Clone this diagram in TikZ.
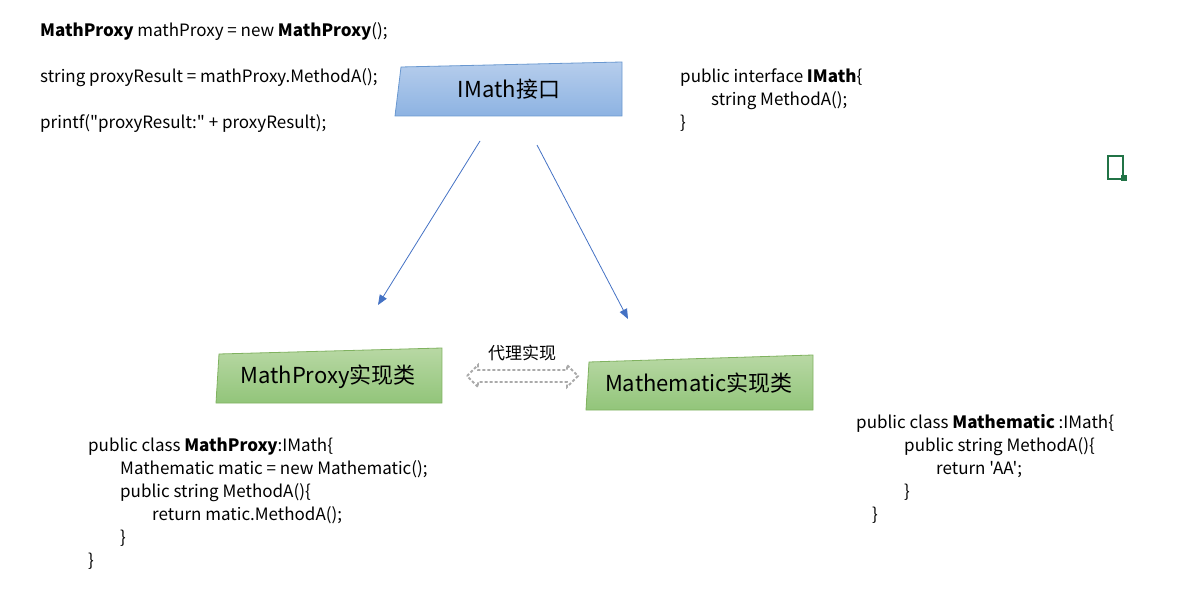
\documentclass[tikz,border=0pt]{standalone}
\usepackage{fontspec}
\setmainfont{Noto Sans CJK SC}[Ligatures=TeXOff]
\usepackage{tikz}
\usetikzlibrary{arrows.meta}
\usetikzlibrary{positioning}
\definecolor{ifaceTop}{RGB}{182,205,236}
\definecolor{ifaceBot}{RGB}{141,179,226}
\definecolor{ifaceLine}{RGB}{106,152,208}
\definecolor{implTop}{RGB}{184,216,164}
\definecolor{implBot}{RGB}{146,197,122}
\definecolor{implLine}{RGB}{128,178,96}
\definecolor{linkblue}{RGB}{68,114,196}
\definecolor{proxygray}{RGB}{170,170,170}
\definecolor{xlgreen}{RGB}{33,115,70}
\tikzset{
  codeline/.style={anchor=base west, inner sep=0pt, font=\fontsize{17}{20}\selectfont},
  boxtext/.style={inner sep=0pt, font=\fontsize{22}{26}\selectfont},
  implarrow/.style={draw=linkblue, line width=0.8pt, -{Triangle[length=10pt,width=8pt]}}
}

\begin{document}
\begin{tikzpicture}[x=1pt,y=-1pt]
\useasboundingbox (0,0) rectangle (1204,609);
\node[codeline] (c1) at (40,37) {\textbf{MathProxy} mathProxy = new \textbf{MathProxy}();};
\node[codeline] (c2) at (40,83) {string proxyResult = mathProxy.MethodA();};
\node[codeline] (c3) at (40,129) {printf("proxyResult:" + proxyResult);};
\shade[top color=ifaceTop, bottom color=ifaceBot, draw=ifaceLine, line width=0.8pt]
  (401,67) -- (622,62) -- (622,116) -- (395,116) -- cycle;
\node[boxtext] (imath) at (509,89) {IMath接口};
\node[codeline] (i1) at (680,83) {public interface \textbf{IMath}\{};
\node[codeline] (i2) at (711,106) {string MethodA();};
\node[codeline] (i3) at (680,129) {\}};
\shade[top color=implTop, bottom color=implBot, draw=implLine, line width=0.8pt]
  (219,354) -- (442,348) -- (442,403) -- (216,403) -- cycle;
\node[boxtext] (proxy) at (328,377) {MathProxy实现类};
\shade[top color=implTop, bottom color=implBot, draw=implLine, line width=0.8pt]
  (589,362) -- (813,355) -- (813,410) -- (586,410) -- cycle;
\node[boxtext] (mathem) at (699,383) {Mathematic实现类};
\coordinate (a1) at (480,141);
\coordinate (a2) at (378,305);
\coordinate (b1) at (537,145);
\coordinate (b2) at (628,319);
\draw[implarrow] (a1) -- (a2);
\draw[implarrow] (b1) -- (b2);
\draw[proxygray, line width=1.8pt, dash pattern=on 3pt off 2pt, line join=miter]
  (467,376) -- (478,365) -- (478,370) -- (567,370) -- (567,365) -- (578,376)
  -- (567,387) -- (567,382) -- (478,382) -- (478,387) -- cycle;
\node[inner sep=0pt, font=\fontsize{17}{20}\selectfont] (proxylbl) at (522,353) {代理实现};
\node[codeline] (p1) at (88,451) {public class \textbf{MathProxy}:IMath\{};
\node[codeline] (p2) at (120,474) {Mathematic matic = new Mathematic();};
\node[codeline] (p3) at (120,497) {public string MethodA()\{};
\node[codeline] (p4) at (152,520) {return matic.MethodA();};
\node[codeline] (p5) at (120,543) {\}};
\node[codeline] (p6) at (88,566) {\}};
\node[codeline] (m1) at (856,428) {public class \textbf{Mathematic} :IMath\{};
\node[codeline] (m2) at (904,451) {public string MethodA()\{};
\node[codeline] (m3) at (936,474) {return 'AA';};
\node[codeline] (m4) at (904,497) {\}};
\node[codeline] (m5) at (872,520) {\}};
\draw[xlgreen, line width=1.6pt] (1108,156) rectangle (1123,179);
\fill[xlgreen] (1121,175) rectangle (1127,181);
\end{tikzpicture}
\end{document}
